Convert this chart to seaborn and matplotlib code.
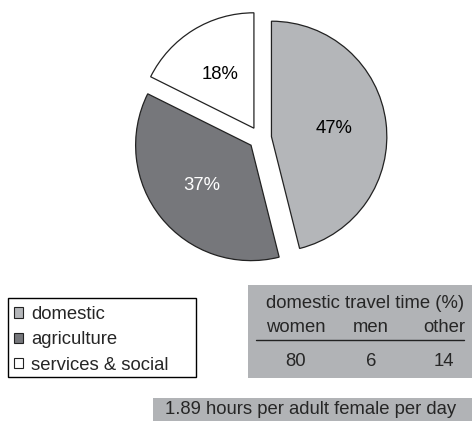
import matplotlib
matplotlib.use("Agg")
import matplotlib.pyplot as plt
from matplotlib.patches import Patch, Rectangle
import seaborn as sns

# data
sectors = ["domestic", "agriculture", "services & social"]
shares = [47, 37, 18]
share_labels = ["47%", "37%", "18%"]
sector_colors = ["#b4b6b9", "#76777b", "#ffffff"]
label_colors = ["black", "white", "black"]

table_title = "domestic travel time (%)"
table_groups = ["women", "men", "other"]
table_values = [80, 6, 14]
footnote = "1.89 hours per adult female per day"

sns.set_theme(style="white")
plt.rcParams["font.family"] = ["Liberation Sans", "DejaVu Sans"]
FS = 13.3
BOX_GRAY = "#b1b3b6"

W, H = 476, 425
fig = plt.figure(figsize=(W / 100, H / 100), dpi=100)

# overlay in pixel coordinates for boxes and table text
ov = fig.add_axes([0, 0, 1, 1])
ov.set_xlim(0, W)
ov.set_ylim(H, 0)
ov.axis("off")

# pie
cx, cy, half = 260, 138, 150
ax = fig.add_axes([(cx - half) / W, (H - cy - half) / H, 2 * half / W, 2 * half / H])
it = iter(share_labels)
wedges, texts, autotexts = ax.pie(
    shares, colors=sector_colors, startangle=90, counterclock=False,
    explode=[0.1, 0.1, 0.1], radius=1, pctdistance=0.55,
    autopct=lambda p: next(it),
    wedgeprops=dict(edgecolor="#222222", linewidth=0.9),
    textprops=dict(fontsize=FS))
for t, c in zip(autotexts, label_colors):
    t.set_color(c)
ax.set_xlim(-1.3, 1.3)
ax.set_ylim(-1.3, 1.3)
ax.set_aspect("equal")
ax.axis("off")

# legend box
ov.add_patch(Rectangle((8, 298), 188, 79, facecolor="white", edgecolor="black", linewidth=1))
handles = [Patch(facecolor=c, edgecolor="#222222", linewidth=0.8) for c in sector_colors]
fig.legend(handles, sectors, loc="upper left", bbox_to_anchor=(14 / W, 1 - 306 / H),
           frameon=False, fontsize=FS, borderpad=0, borderaxespad=0,
           handlelength=0.48, handleheight=0.48, handletextpad=0.45, labelspacing=0.45)

# table box
ov.add_patch(Rectangle((248, 285), 224, 93, facecolor=BOX_GRAY, edgecolor="none"))
ov.text(365, 304, table_title, ha="center", va="center", fontsize=FS)
col_x = [296, 371, 444]
for x, g, v in zip(col_x, table_groups, table_values):
    ov.text(x, 327, g, ha="center", va="center", fontsize=FS)
    ov.text(x, 362, str(v), ha="center", va="center", fontsize=FS)
ov.plot([256, 464], [340, 340], color="#222222", linewidth=1)

# footnote bar
ov.add_patch(Rectangle((153, 398), 319, 23, facecolor=BOX_GRAY, edgecolor="none"))
ov.text(165, 410, footnote, ha="left", va="center", fontsize=FS)

fig.savefig("out.png", dpi=100)
